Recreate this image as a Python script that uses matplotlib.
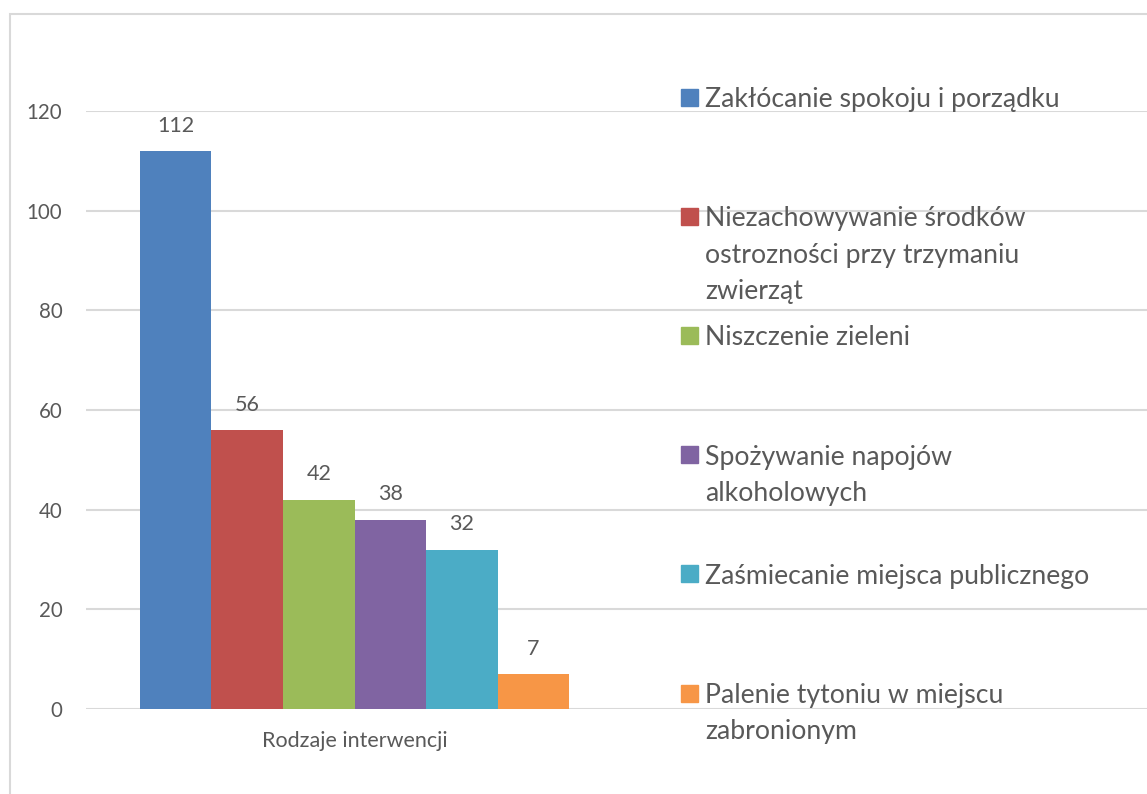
import matplotlib.pyplot as plt
from matplotlib.patches import Rectangle

plt.rcParams['font.family'] = ['Lato', 'DejaVu Sans']

category = 'Rodzaje interwencji'
labels = ['Zakłócanie spokoju i porządku',
          'Niezachowywanie środków\nostrozności przy trzymaniu\nzwierząt',
          'Niszczenie zieleni',
          'Spożywanie napojów\nalkoholowych',
          'Zaśmiecanie miejsca publicznego',
          'Palenie tytoniu w miejscu\nzabronionym']
values = [112, 56, 42, 38, 32, 7]
colors = ['#4F81BD', '#C0504D', '#9BBB59', '#8064A2', '#4BACC6', '#F79646']

W, H = 1147, 794
fig = plt.figure(figsize=(W / 100, H / 100), dpi=100)
ax = fig.add_axes([86 / W, 1 - 709 / H, 1 - 86 / W, (709 - 111) / H])

txt = '#595959'
n = len(values)
bw = 0.8 / n
# plot area spans 537 px for the single category, gridlines run to the edge
xmax = -0.5 + (W - 86) / 537
for i, (v, c) in enumerate(zip(values, colors)):
    x = -0.4 + bw * (i + 0.5)
    ax.bar(x, v, width=bw, color=c, zorder=3)
    ax.annotate(str(v), (x, v), xytext=(0, 11), textcoords='offset points',
                ha='center', va='bottom', fontsize=15.5, color=txt)

ax.set_xlim(-0.5, xmax)
ax.set_ylim(0, 120)
ax.set_yticks(range(0, 121, 20))
ax.set_xticks([0])
ax.set_xticklabels([category], fontsize=15.5, color=txt)
ax.tick_params(axis='y', length=0, pad=17, labelsize=14.8, labelcolor=txt)
ax.tick_params(axis='x', length=0, pad=16)
ax.grid(axis='y', color='#D9D9D9', linewidth=1.5, zorder=0)
for s in ax.spines.values():
    s.set_visible(False)

# chart border
fig.patches.append(Rectangle((9.5 / W, -0.1), 1.2, 1 - 14 / H + 0.1,
                             transform=fig.transFigure, fill=False,
                             edgecolor='#D9D9D9', linewidth=1.5))

# legend drawn by hand, Excel style
y0, step, lstep = 97, 119.2, 36.5
for i, (lab, c) in enumerate(zip(labels, colors)):
    yc = y0 + i * step
    fig.patches.append(Rectangle((681 / W, 1 - (yc + 8.5) / H), 17 / W, 17 / H,
                                 transform=fig.transFigure, color=c))
    for k, line in enumerate(lab.split('\n')):
        fig.text(705 / W, 1 - (yc + k * lstep) / H, line, fontsize=19.2,
                 color=txt, ha='left', va='center_baseline')

fig.savefig('out.png', dpi=100)
